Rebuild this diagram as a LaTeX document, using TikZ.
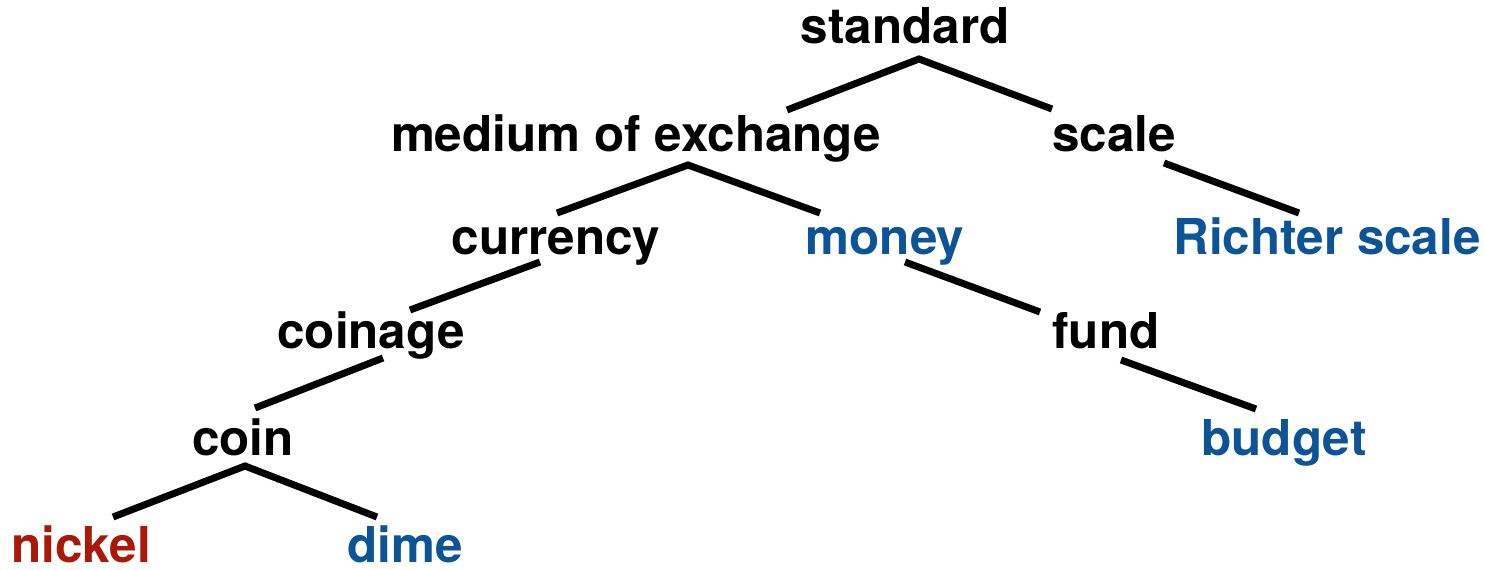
\documentclass[tikz,border=0pt]{standalone}
\usepackage{fontspec}
\setmainfont{TeX Gyre Heros}
\definecolor{leafred}{RGB}{170,24,8}
\definecolor{leafblue}{RGB}{12,84,150}
\begin{document}
\begin{tikzpicture}[x=0.5pt,y=-0.5pt,
  word/.style={anchor=base,inner sep=0pt,font=\fontsize{24.7pt}{28pt}\selectfont\bfseries},
  redword/.style={word,text=leafred},
  blueword/.style={word,text=leafblue},
  branch/.style={line width=3.5pt,line cap=butt,line join=miter,black}]
\useasboundingbox (0,0) rectangle (1485,569);
% words
\node[word] (standard) at (905,43) {standard};
\node[word] (medium) at (636,151) {medium of exchange};
\node[word] (scale) at (1114,151) {scale};
\node[word] (currency) at (556,254) {currency};
\node[blueword] (money) at (885,254) {money};
\node[blueword] (richter) at (1327,254) {Richter scale};
\node[word] (coinage) at (371,348) {coinage};
\node[word] (fund) at (1106,348) {fund};
\node[word] (coin) at (243,455) {coin};
\node[blueword] (budget) at (1284,455) {budget};
\node[redword] (nickel) at (81,562) {nickel};
\node[blueword] (dime) at (405,562) {dime};
% joints
\coordinate (standard-j) at (919,59);
\coordinate (medium-t) at (787,110);
\coordinate (scale-t) at (1052,109);
\coordinate (medium-j) at (688,165);
\coordinate (currency-t) at (557,213);
\coordinate (money-t) at (820,213);
\coordinate (scale-j) at (1164,163);
\coordinate (richter-t) at (1299,213);
\coordinate (currency-j) at (540,262);
\coordinate (coinage-t) at (410,310);
\coordinate (money-j) at (905,262);
\coordinate (fund-t) at (1040,312);
\coordinate (coinage-j) at (383,358);
\coordinate (coin-t) at (255,408);
\coordinate (fund-j) at (1121,360);
\coordinate (budget-t) at (1256,409);
\coordinate (coin-j) at (245,466);
\coordinate (nickel-t) at (113,517);
\coordinate (dime-t) at (377,517);
% branches
\draw[branch] (medium-t) -- (standard-j) -- (scale-t);
\draw[branch] (currency-t) -- (medium-j) -- (money-t);
\draw[branch] (scale-j) -- (richter-t);
\draw[branch] (currency-j) -- (coinage-t);
\draw[branch] (money-j) -- (fund-t);
\draw[branch] (coinage-j) -- (coin-t);
\draw[branch] (fund-j) -- (budget-t);
\draw[branch] (nickel-t) -- (coin-j) -- (dime-t);
\end{tikzpicture}
\end{document}
